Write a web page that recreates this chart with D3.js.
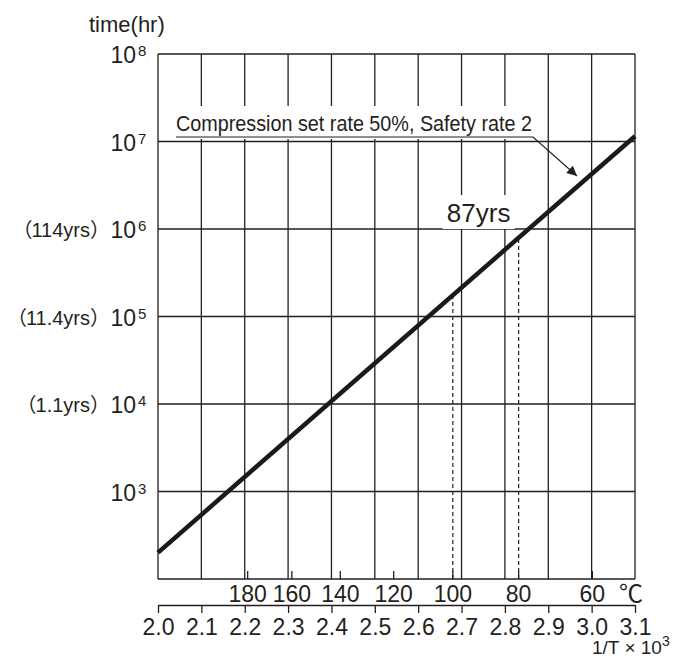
<!DOCTYPE html>
<html>
<head>
<meta charset="utf-8">
<script src="https://cdn.jsdelivr.net/npm/d3@7"></script>
<style>
  body { margin: 0; background: #fff; }
  text { font-family: "Liberation Sans", Arial, "Noto Sans CJK JP", sans-serif; fill: #231f20; }
</style>
</head>
<body>
<div id="chart"></div>
<script>
// line: 1/T x 10^3 vs time (hr)
const invT = [2.0, 3.1];
const hours = [200, 1.15e7];

// axes
const xTicks = [2.0, 2.1, 2.2, 2.3, 2.4, 2.5, 2.6, 2.7, 2.8, 2.9, 3.0, 3.1];
const tempC = [180, 160, 140, 120, 100, 80, 60];
const yExp = [3, 4, 5, 6, 7, 8];
const yGridExp = [2, 3, 4, 5, 6, 7, 8];
const yearExp = [4, 5, 6];
const yearNotes = ["1.1yrs", "11.4yrs", "114yrs"];

// markers
const dashedTemps = [100, 80];
const noteTemp = 80;
const noteText = "87yrs";
const legendText = "Compression set rate 50%, Safety rate 2";

var width = 692, height = 658;
var plotL = 158, plotR = 635, plotT = 54, plotB = 579;

var svg = d3.select("#chart").append("svg")
  .attr("width", width)
  .attr("height", height);

var x = d3.scaleLinear().domain([2.0, 3.1]).range([plotL, plotR]);
var y = d3.scaleLog().domain([1e2, 1e8]).range([plotB, plotT]);

// log(hours) is linear in 1/T
var logFit = d3.scaleLinear().domain(invT).range(hours.map(function (h) { return Math.log10(h); }));
function toInv(t) { return 1000 / (t + 273.15); }

var ink = "#231f20";

// grid
svg.append("g").selectAll("line").data(xTicks).enter().append("line")
  .attr("x1", function (d) { return x(d); }).attr("x2", function (d) { return x(d); })
  .attr("y1", plotT).attr("y2", plotB)
  .attr("stroke", ink).attr("stroke-width", 1.3);

svg.append("g").selectAll("line").data(yGridExp).enter().append("line")
  .attr("x1", plotL).attr("x2", plotR)
  .attr("y1", function (d) { return y(Math.pow(10, d)); })
  .attr("y2", function (d) { return y(Math.pow(10, d)); })
  .attr("stroke", ink).attr("stroke-width", 1.3);

// white boxes behind the labels
svg.append("rect").attr("x", 170).attr("y", 106).attr("width", 370).attr("height", 33).attr("fill", "#fff");
var nx = x(toInv(noteTemp));
svg.append("rect").attr("x", nx - 76).attr("y", 195).attr("width", 72).attr("height", 34).attr("fill", "#fff");

// temperature ticks on plot bottom
svg.append("g").selectAll("line").data(tempC).enter().append("line")
  .attr("x1", function (d) { return x(toInv(d)); }).attr("x2", function (d) { return x(toInv(d)); })
  .attr("y1", plotB).attr("y2", plotB - 8)
  .attr("stroke", ink).attr("stroke-width", 1.3);

svg.append("g").selectAll("text").data(tempC).enter().append("text")
  .attr("x", function (d) { return x(toInv(d)); })
  .attr("y", 602)
  .attr("text-anchor", "middle")
  .attr("font-size", 23)
  .text(function (d) { return d; });

svg.append("text").attr("x", 631).attr("y", 602).attr("text-anchor", "middle")
  .attr("font-size", 24).text("℃");

// dashed drop lines
svg.append("g").selectAll("line").data(dashedTemps).enter().append("line")
  .attr("x1", function (d) { return x(toInv(d)); }).attr("x2", function (d) { return x(toInv(d)); })
  .attr("y1", plotB)
  .attr("y2", function (d) { return y(Math.pow(10, logFit(toInv(d)))); })
  .attr("stroke", ink).attr("stroke-width", 1.2).attr("stroke-dasharray", "4,3");

// main line
var line = d3.line()
  .x(function (d) { return x(d[0]); })
  .y(function (d) { return y(d[1]); });

svg.append("path")
  .datum(d3.zip(invT, hours))
  .attr("d", line)
  .attr("fill", "none")
  .attr("stroke", "#1a1a1a")
  .attr("stroke-width", 4.5);

// lower axis 1/T
var xAxis = svg.append("g")
  .attr("transform", "translate(0," + 605 + ")")
  .call(d3.axisBottom(x).tickValues(xTicks).tickSize(8).tickSizeOuter(0).tickFormat(d3.format(".1f")));
xAxis.select(".domain").attr("stroke", ink).attr("stroke-width", 1.3);
xAxis.selectAll(".tick line").attr("stroke", ink).attr("stroke-width", 1.3);
xAxis.selectAll(".tick text")
  .attr("font-family", null)
  .attr("font-size", 23)
  .attr("fill", ink)
  .attr("y", 30).attr("dy", null);

var xl = svg.append("text").attr("x", 592).attr("y", 654).attr("font-size", 19);
xl.append("tspan").text("1/T × 10");
xl.append("tspan").attr("font-size", 14).attr("dy", -8).text("3");

// y labels
var yl = svg.append("g").selectAll("g").data(yExp).enter().append("g")
  .attr("transform", function (d) { return "translate(0," + y(Math.pow(10, d)) + ")"; });
yl.append("text").attr("x", 136).attr("y", 9).attr("text-anchor", "end")
  .attr("font-size", 23).text("10");
yl.append("text").attr("x", 138).attr("y", 2).attr("font-size", 15)
  .text(function (d) { return d; });

svg.append("g").selectAll("text").data(yearExp).enter().append("text")
  .attr("x", 110)
  .attr("y", function (d) { return y(Math.pow(10, d)) + 8; })
  .attr("text-anchor", "end")
  .attr("font-size", 20)
  .each(function (d, i) {
    var t = d3.select(this);
    t.append("tspan").text("（");
    t.append("tspan").attr("dx", -1).text(yearNotes[i]);
    t.append("tspan").text("）");
  });

svg.append("text").attr("x", 89).attr("y", 32).attr("font-size", 22).text("time(hr)");

// legend label with leader arrow
svg.append("text").attr("x", 176).attr("y", 131).attr("font-size", 22)
  .attr("textLength", 356).attr("lengthAdjust", "spacingAndGlyphs")
  .text(legendText);

svg.append("defs").append("marker")
  .attr("id", "arrow").attr("viewBox", "0 0 10 10")
  .attr("refX", 10).attr("refY", 5)
  .attr("markerWidth", 14).attr("markerHeight", 10)
  .attr("markerUnits", "userSpaceOnUse")
  .attr("orient", "auto")
  .append("path").attr("d", "M0,0L10,5L0,10Z").attr("fill", ink);

svg.append("path")
  .attr("d", "M176,137L533,137L577,176")
  .attr("fill", "none").attr("stroke", ink).attr("stroke-width", 1.2)
  .attr("marker-end", "url(#arrow)");

svg.append("text").attr("x", nx - 40).attr("y", 222).attr("text-anchor", "middle")
  .attr("font-size", 26).text(noteText);
</script>
</body>
</html>
